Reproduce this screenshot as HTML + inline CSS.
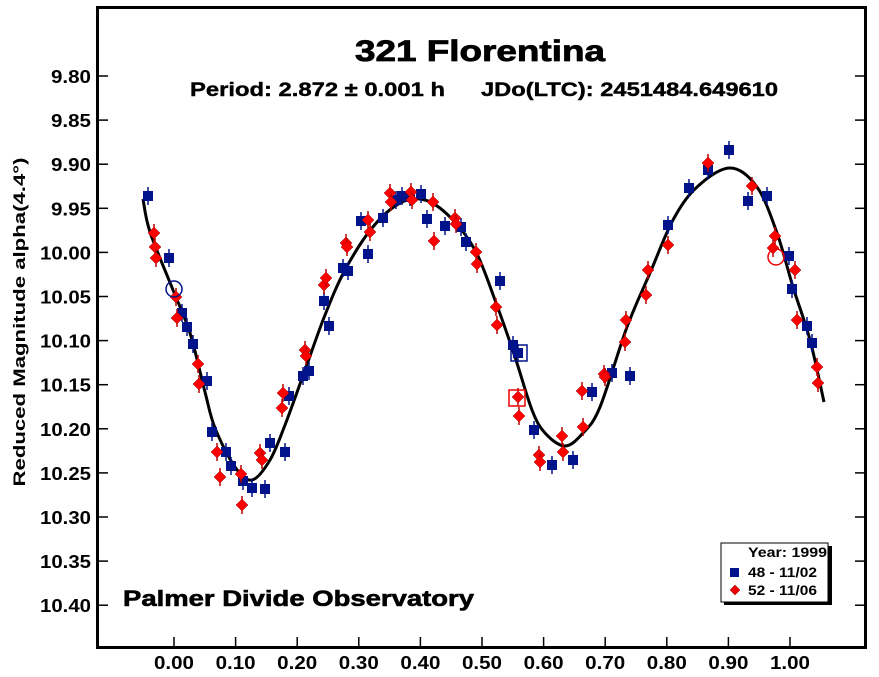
<!DOCTYPE html>
<html><head><meta charset="utf-8"><style>
body{margin:0;background:#fff;}
svg{display:block;font-family:"Liberation Sans",Arial,sans-serif;font-weight:bold;}
</style></head><body>
<svg id="s" width="879" height="677" xmlns="http://www.w3.org/2000/svg">
<rect x="0" y="0" width="879" height="677" fill="#fff"/>
<rect x="97.5" y="7.5" width="768" height="640" fill="none" stroke="#000" stroke-width="3"/>
<text x="355" y="61" font-size="30" textLength="250" lengthAdjust="spacingAndGlyphs" stroke="#000" stroke-width="0.8">321 Florentina</text>
<text x="190" y="96" font-size="19" textLength="255" lengthAdjust="spacingAndGlyphs" stroke="#000" stroke-width="0.4">Period: 2.872 ± 0.001 h</text>
<text x="481" y="96" font-size="19" textLength="297" lengthAdjust="spacingAndGlyphs" stroke="#000" stroke-width="0.4">JDo(LTC): 2451484.649610</text>
<text transform="translate(25,322) rotate(-90)" font-size="17" text-anchor="middle" textLength="329" lengthAdjust="spacingAndGlyphs">Reduced Magnitude alpha(4.4°)</text>
<text x="123" y="606" font-size="22" textLength="351" lengthAdjust="spacingAndGlyphs" stroke="#000" stroke-width="0.6">Palmer Divide Observatory</text>
<g id="axes"></g>
<path id="curve" fill="none" stroke="#000" stroke-width="3"/>
<g id="pts"></g>
<circle cx="174" cy="289" r="8" fill="none" stroke="#00138a" stroke-width="1.5"/>
<rect x="511" y="345" width="16" height="16" fill="none" stroke="#00138a" stroke-width="1.5"/>
<rect x="509" y="390" width="16" height="16" fill="none" stroke="#e00" stroke-width="1.5"/>
<circle cx="776" cy="257" r="8" fill="none" stroke="#e00" stroke-width="1.5"/>
<rect x="724" y="546" width="108" height="59" fill="#000"/>
<rect x="721" y="543" width="107" height="59" fill="#fff" stroke="#000" stroke-width="1"/>
<text x="748" y="557" font-size="14" textLength="79" lengthAdjust="spacingAndGlyphs">Year: 1999</text>
<rect x="730" y="568" width="9" height="9" fill="#00138a"/>
<text x="748" y="577" font-size="14" textLength="69" lengthAdjust="spacingAndGlyphs">48 - 11/02</text>
<path d="M735 585 l5 5 l-5 5 l-5 -5z" fill="#e00" stroke="#700" stroke-width="0.5"/>
<text x="748" y="595" font-size="14" textLength="69" lengthAdjust="spacingAndGlyphs">52 - 11/06</text>
</svg>
<script>
var ax=document.getElementById("axes"),h="";
for(var i=0;i<=12;i++){var y=76+i*44.1,v=(9.8+i*0.05).toFixed(2),L=v.length==5?51:40;
h+='<line x1="97" y1="'+y+'" x2="108" y2="'+y+'" stroke="#000" stroke-width="1.5"/>';
h+='<line x1="855" y1="'+y+'" x2="866" y2="'+y+'" stroke="#000" stroke-width="1.5"/>';
h+='<text x="'+(91-L)+'" y="'+(y+7)+'" font-size="18" textLength="'+L+'" lengthAdjust="spacingAndGlyphs">'+v+'</text>';}
for(var i=0;i<=10;i++){var x=174+i*61.6;
h+='<line x1="'+x+'" y1="637" x2="'+x+'" y2="647" stroke="#000" stroke-width="1.5"/>';
h+='<text x="'+(x-20)+'" y="669" font-size="18" textLength="40" lengthAdjust="spacingAndGlyphs">'+(i/10).toFixed(2)+'</text>';}
ax.innerHTML=h;
var P=[[143,199],[150,232],[173,290],[190,333],[205,392],[215,428],[235,467],[252,480],[270,460],[285,425],[305,370],[325,315],[345,270],[372,228],[400,203],[425,200],[450,217],[475,250],[495,300],[515,357],[532,410],[545,433],[565,446],[583,433],[600,407],[627,327],[650,273],[673,220],[697,187],[730,168],[757,187],[777,233],[793,287],[810,340],[824,402]];
function cr(p){var d="M"+p[0][0]+" "+p[0][1];for(var i=0;i<p.length-1;i++){var p0=p[Math.max(0,i-1)],p1=p[i],p2=p[i+1],p3=p[Math.min(p.length-1,i+2)];
d+=" C"+(p1[0]+(p2[0]-p0[0])/6)+" "+(p1[1]+(p2[1]-p0[1])/6)+" "+(p2[0]-(p3[0]-p1[0])/6)+" "+(p2[1]-(p3[1]-p1[1])/6)+" "+p2[0]+" "+p2[1];}return d;}
document.getElementById("curve").setAttribute("d",cr(P));
var B=[[148,196],[169,258],[182,313],[187,327],[193,344],[207,381],[212,432],[226,452],[231,466],[243,481],[252,488],[265,489],[270,443],[285,452],[289,396],[303,376],[309,371],[324,301],[329,326],[343,268],[348,271],[361,221],[368,254],[383,218],[396,200],[402,196],[410,197],[421,194],[427,219],[445,226],[461,227],[466,242],[500,281],[513,345],[518,353],[534,430],[552,465],[573,460],[592,392],[612,373],[630,376],[668,225],[689,188],[708,170],[729,150],[748,201],[767,196],[789,256],[792,289],[807,326],[812,343]];
var R=[[154,233],[155,247],[156,258],[176,297],[177,318],[198,364],[199,384],[217,452],[220,477],[241,474],[242,505],[260,453],[262,460],[282,408],[283,393],[305,350],[306,356],[324,285],[326,278],[346,243],[347,247],[368,220],[370,232],[390,193],[391,202],[411,192],[412,200],[433,202],[434,241],[455,218],[456,224],[476,252],[477,264],[496,307],[497,325],[518,397],[519,416],[539,455],[540,462],[562,436],[563,452],[582,391],[583,427],[604,374],[605,377],[625,342],[626,320],[646,295],[648,270],[668,245],[708,163],[752,186],[773,248],[775,236],[795,270],[797,320],[817,367],[818,383]];
h="";
B.forEach(function(p){h+='<line x1="'+p[0]+'" y1="'+(p[1]-9)+'" x2="'+p[0]+'" y2="'+(p[1]+9)+'" stroke="#00138a" stroke-width="1.5"/><rect x="'+(p[0]-5)+'" y="'+(p[1]-5)+'" width="10" height="10" fill="#00138a"/>';});
R.forEach(function(p){h+='<line x1="'+p[0]+'" y1="'+(p[1]-9)+'" x2="'+p[0]+'" y2="'+(p[1]+9)+'" stroke="#b00" stroke-width="1.5"/><path d="M'+p[0]+' '+(p[1]-6)+' l6 6 l-6 6 l-6 -6z" fill="#f00" stroke="#900" stroke-width="0.5"/>';});
document.getElementById("pts").innerHTML=h;
</script>
</body></html>
